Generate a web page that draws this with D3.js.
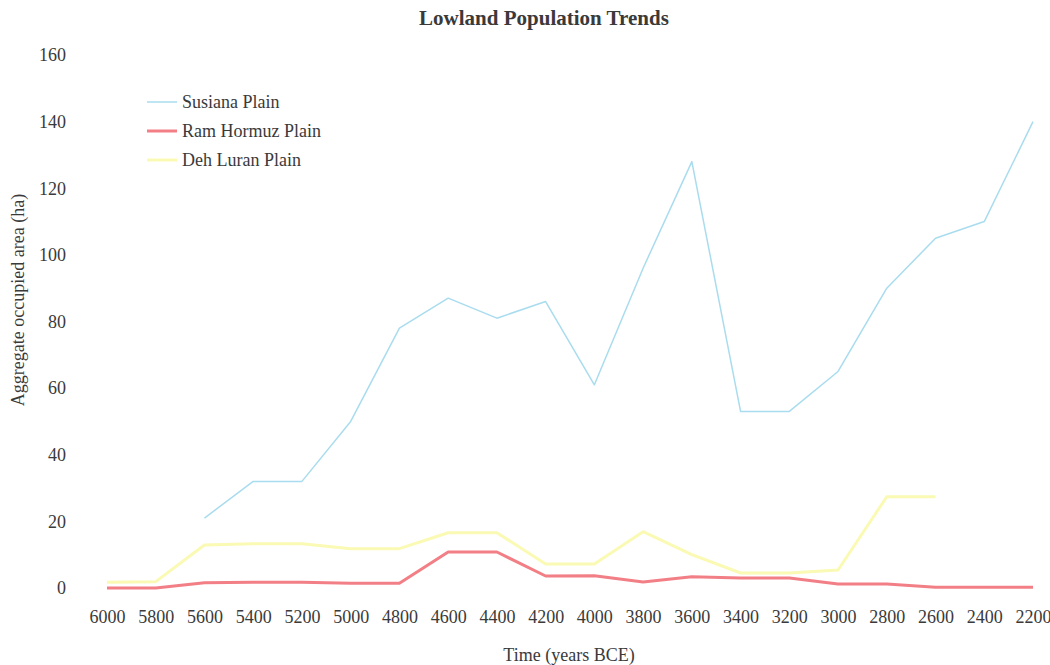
<!DOCTYPE html>
<html><head><meta charset="utf-8">
<script src="https://cdn.jsdelivr.net/npm/d3@7"></script>
<style>body{margin:0;background:#fff;}svg{display:block;}text{font-family:"Liberation Serif","Times New Roman",serif;fill:#3a3a3a;}</style>
</head><body>
<svg id="c" width="1050" height="665"></svg>
<script>
const years = [6000,5800,5600,5400,5200,5000,4800,4600,4400,4200,4000,3800,3600,3400,3200,3000,2800,2600,2400,2200];
const susiana = [null,null,21,32,32,50,78,87,81,86,61,96,128,53,53,65,90,105,110,140];
const ramHormuz = [0,0,1.6,1.7,1.7,1.4,1.4,10.8,10.8,3.6,3.7,1.8,3.4,3,3,1.2,1.2,0.2,0.2,0.2];
const dehLuran = [1.7,1.9,12.9,13.3,13.3,11.8,11.8,16.6,16.6,7.2,7.2,16.9,10,4.5,4.5,5.4,27.4,27.4,null,null];
const yTicks = [0,20,40,60,80,100,120,140,160];
const seriesNames = ["Susiana Plain","Ram Hormuz Plain","Deh Luran Plain"];
const seriesColors = ["#a9dcee","#f27f86","#fafab4"];
const seriesWidths = [1.5,3,3];

const svg = d3.select("#c");
const x = d3.scalePoint().domain(years).range([107,1033]);
const y = d3.scaleLinear().domain([0,160]).range([588,55]);
const FS = 18;

svg.append("text").attr("x",544).attr("y",25).attr("text-anchor","middle")
  .attr("font-size",21).attr("font-weight","bold").text("Lowland Population Trends");

const yAxis = d3.axisLeft(y).tickValues(yTicks).tickSize(0).tickPadding(0);
const gy = svg.append("g").attr("transform","translate(66,0)").call(yAxis);
gy.select(".domain").remove();
gy.selectAll("text").attr("font-size",FS).attr("font-family","Liberation Serif").attr("fill","#3a3a3a");

const xAxis = d3.axisBottom(x).tickSize(0).tickPadding(0);
const gx = svg.append("g").attr("transform","translate(0,610)").call(xAxis);
gx.select(".domain").remove();
gx.selectAll("text").attr("font-size",FS).attr("font-family","Liberation Serif").attr("fill","#3a3a3a");

svg.append("text").attr("x",569).attr("y",661).attr("text-anchor","middle").attr("font-size",FS).text("Time (years BCE)");
svg.append("text").attr("transform","translate(24,300) rotate(-90)").attr("text-anchor","middle").attr("font-size",FS).text("Aggregate occupied area (ha)");

const data = [susiana, ramHormuz, dehLuran];
const line = d3.line().defined(d=>d.v!==null).x(d=>x(d.yr)).y(d=>y(d.v));
[2,0,1].forEach(i=>{
  svg.append("path").datum(years.map((yr,j)=>({yr, v:data[i][j]})))
    .attr("fill","none").attr("stroke",seriesColors[i]).attr("stroke-width",seriesWidths[i])
    .attr("stroke-linejoin","round").attr("d",line);
});

const legY = [102,131,160];
seriesNames.forEach((n,i)=>{
  const yy = legY[i];
  svg.append("line").attr("x1",147).attr("x2",177).attr("y1",yy).attr("y2",yy)
    .attr("stroke",seriesColors[i]).attr("stroke-width",seriesWidths[i]);
  svg.append("text").attr("x",182).attr("y",yy+6).attr("font-size",FS).text(n);
});
</script>
</body></html>
